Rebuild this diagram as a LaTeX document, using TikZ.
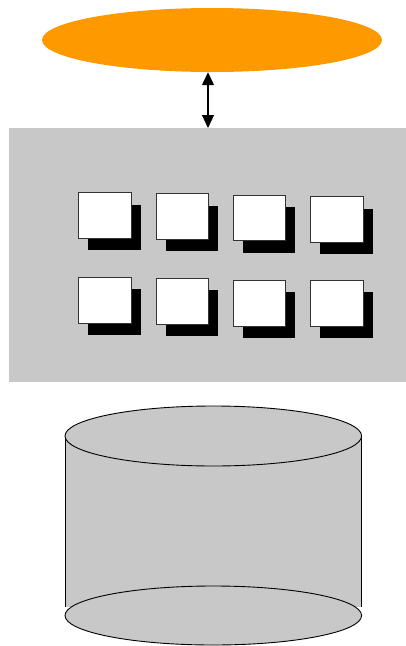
\documentclass[tikz,border=0pt]{standalone}
\usetikzlibrary{arrows.meta,shapes.geometric}
\definecolor{panelgray}{RGB}{200,200,200}
\definecolor{topOrange}{RGB}{255,153,0}
\tikzset{
  shadowbox/.style={fill=black,draw=none},
  whitebox/.style={fill=white,draw=black!80,line width=0.9pt},
  cylpart/.style={fill=panelgray,draw=black,line width=0.9pt},
}
\begin{document}
\begin{tikzpicture}[x=1pt,y=-1pt]
\useasboundingbox (0,0) rectangle (406,646);
% top orange ellipse
\node[ellipse,fill=topOrange,draw=none,minimum width=340pt,minimum height=64pt,inner sep=0pt] (ell) at (212,40) {};
% gray panel
\node[rectangle,fill=panelgray,draw=none,minimum width=397pt,minimum height=254pt,inner sep=0pt,anchor=north west] (panel) at (9,128) {};
% arrow
\draw[{Triangle[width=12pt,length=13pt]}-{Triangle[width=12pt,length=13pt]},line width=1.2pt] (ell.south -| 208,0) -- (panel.north -| 208,0);
% boxes: row 1
\foreach \x/\y [count=\i] in {78.3/192.3, 155.7/193.3, 232.7/194.7, 310/196}{
  \fill[shadowbox] (\x+10,\y+12.5) rectangle ++(52.5,45.5);
  \node[whitebox,anchor=north west,minimum width=52.5pt,minimum height=45.5pt,inner sep=0pt] (ba\i) at (\x,\y) {};
}
% boxes: row 2
\foreach \x/\y [count=\i] in {78.3/277.3, 155.7/278.3, 232.7/280, 310/280}{
  \fill[shadowbox] (\x+10,\y+12) rectangle ++(52.5,46);
  \node[whitebox,anchor=north west,minimum width=52.5pt,minimum height=46pt,inner sep=0pt] (bb\i) at (\x,\y) {};
}
% cylinder
\fill[panelgray] (65,436) rectangle (361.6,607);
\draw[line width=0.9pt] (65,436) -- (65,607) (361.6,436) -- (361.6,607);
\node[ellipse,cylpart,minimum width=296.6pt,minimum height=60pt,inner sep=0pt] (cyltop) at (213.3,436) {};
\node[ellipse,cylpart,minimum width=296.6pt,minimum height=59pt,inner sep=0pt] (cylbot) at (213.3,615.5) {};
\end{tikzpicture}
\end{document}
